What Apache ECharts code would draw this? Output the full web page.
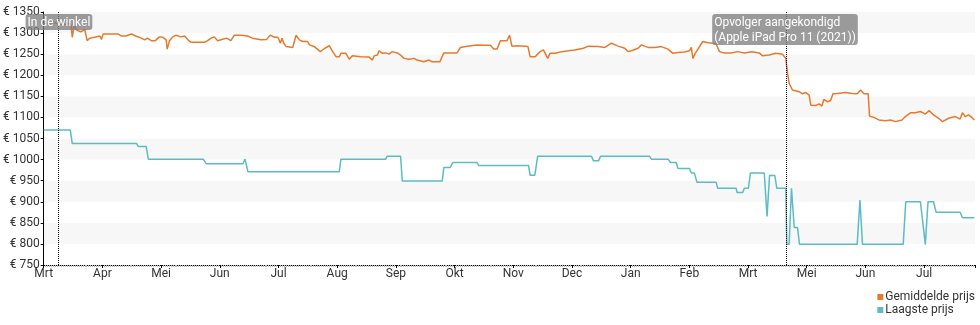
<!DOCTYPE html>
<html>
<head>
<meta charset="utf-8">
<script src="https://cdn.jsdelivr.net/npm/echarts@6/dist/echarts.min.js"></script>
<style>
html,body{margin:0;padding:0;background:#fff;}
#chart{width:980px;height:325px;}
</style>
</head>
<body>
<div id="chart"></div>
<script>
// x values are days since the first day of the chart
const monthLabels = ['Mrt','Apr','Mei','Jun','Jul','Aug','Sep','Okt','Nov','Dec','Jan','Feb','Mrt','Mei','Jun','Jul'];
const yTicks = [750,800,850,900,950,1000,1050,1100,1150,1200,1250,1300,1350];

const avgDays = [0,5,10,12.6,14,14.6,15.6,16.8,19,21,22.2,23.6,26,28.7,29.5,30.4,34,38,39.7,42,44.8,47,49.9,51.6,53,55,57,59.2,61,62.6,63.1,64.3,66,67.7,70,72,73.7,75.4,79,82.1,83.8,85.5,87.2,88.9,91,93.5,95.7,97.4,101,104.2,106.7,111,114,115.7,118,
119.7,121,121.8,122.7,123.9,127.3,129,130.7,132.4,134.9,135.8,138.3,141.4,143.7,146,147.7,149.4,151.1,152,154.4,156.2,157.8,162,166.3,168,168.9,170.6,171.4,173.1,174.8,176.5,178.2,180.7,182.4,184.2,186.7,189.2,190.9,194.3,196.8,198.5,200,202.5,204.5,207.9,211.3,213,216.4,221.5,224.9,228.3,230,231.7,233.4,236.8,238.1,239.3,
241.9,246.1,247.5,248.6,251.2,253.7,255.4,256.3,257.6,258.8,261.4,264.8,268.2,271.5,275.8,278.4,283.4,286.8,290.2,293.6,297,298.7,300.4,303.8,305.5,308.9,312.3,315.7,319.1,321.6,324.2,327.5,330.1,331,331.8,333,334.4,336.9,339.5,342,343.7,345.4,347.9,351.3,354.7,358.1,
359,362,365.7,367.5,370.8,374.2,377.6,379.3,380.2,381,382.7,386.1,387.8,389.5,391.2,392.1,394.6,396.3,397.7,398.8,400.6,402.2,403.4,405.6,406.5,409.9,413.3,415.8,417.5,419.2,421.4,422.1,424.3,426.9,430.2,432.8,435.3,438.7,440.4,443,445.5,448.1,450.6,452.6,454.8,457.4,459.4,462.5,465.9,468.4,469.6,471,472.7,474.4,475.7];
const avgPrices = [1322,1325,1320,1323,1319,1290,1319,1307,1303,1309,1282,1288,1290,1293,1285,1298,1298,1298,1293,1293,1298,1293,1288,1284,1288,1282,1282,1291,1290,1284,1262,1282,1291,1295,1291,1293,1284,1278,1278,1278,1282,1288,1291,1282,1285,1288,1282,1295,1295,1293,1288,1284,1285,1295,1290,
1290,1276,1288,1276,1268,1266,1295,1284,1280,1280,1272,1268,1256,1264,1270,1256,1244,1244,1252,1252,1238,1246,1244,1243,1236,1246,1248,1258,1252,1253,1250,1256,1253,1248,1240,1238,1240,1236,1232,1236,1232,1232,1232,1253,1253,1253,1266,1269,1272,1271,1271,1262,1262,1282,1282,1295,1269,
1270,1269,1268,1244,1244,1256,1260,1256,1240,1252,1252,1256,1258,1260,1264,1269,1268,1266,1276,1269,1264,1256,1258,1264,1272,1266,1266,1268,1262,1252,1254,1255,1258,1266,1240,1252,1262,1280,1277,1276,1274,1256,1253,1253,1256,1253,
1256,1256,1253,1246,1248,1252,1250,1240,1205,1181,1165,1161,1156,1159,1153,1129,1128,1132,1127,1143,1137,1140,1156,1157,1161,1159,1157,1156,1165,1156,1156,1103,1100,1094,1092,1094,1090,1094,1102,1111,1111,1114,1108,1116,1106,1098,1090,1098,1102,1096,1111,1102,1106,1100,1094];

const lowDays = [0,13.6,14.6,47.5,48.4,52.4,53.5,81.5,83.1,101.8,102.9,103.6,104.4,151.1,151.9,174.8,175.5,182.4,183.3,203.7,204.5,207.7,209.1,221.5,222.3,247.8,248.6,251,252.5,280,281,283.6,284.6,309.6,310.6,319.1,320.4,323.3,324.2,330.1,331,332.6,333.9,343.7,344.5,353.9,354.4,357.3,358.1,360.2,361.2,368.3,369.7,371,373.7,374.7,379.3,379.8,381,382.2,383.6,385.3,386.3,415.8,417.2,418.5,439.3,440.6,448.1,450.6,452,454.8,456.1,468.4,469.6,475.7];
const lowPrices = [1070,1070,1038,1038,1031,1031,1001,1001,990,990,1001,1001,971,971,1001,1001,1008,1008,949,949,981,981,993,993,986,986,963,963,1008,1008,997,997,1008,1008,1001,1001,993,993,979,979,968,968,946,946,932,932,922,922,932,932,968,968,865,962,962,932,932,799,799,932,839,839,799,799,904,799,799,900,900,799,900,900,875,875,862,862];

const events = [
  {day: 7.6, name: 'In de winkel', off: -33},
  {day: 379.5, name: 'Opvolger aangekondigd\n(Apple iPad Pro 11 (2021))', off: -74}
];

const orange = '#e8792b';
const teal = '#5bbcc4';
const font = 'Roboto, "Noto Sans", sans-serif';

const avgData = avgDays.map((d, i) => [d, avgPrices[i]]);
const lowData = lowDays.map((d, i) => [d, lowPrices[i]]);

const chart = echarts.init(document.getElementById('chart'), null, {renderer: 'canvas'});
chart.setOption({
  animation: false,
  textStyle: {fontFamily: font},
  grid: {left: 40, right: 5, top: 12, bottom: 60, containLabel: false},
  legend: {
    orient: 'vertical', right: 5, top: 291, padding: 0, height: 34,
    itemWidth: 6, itemHeight: 6, itemGap: 1,
    icon: 'rect', align: 'left',
    textStyle: {fontSize: 12, color: '#333', fontFamily: font, padding: [0, 0, 0, -3]},
    data: ['Gemiddelde prijs', 'Laagste prijs']
  },
  xAxis: {
    type: 'value', min: 0, max: 476, interval: 30,
    axisLine: {show: true, lineStyle: {color: '#000', width: 1}},
    axisTick: {show: true, length: 3, lineStyle: {color: '#000'}},
    minorTick: {show: true, splitNumber: 30, length: 2, lineStyle: {color: '#bbb'}},
    splitLine: {show: false},
    axisLabel: {
      margin: 3, fontSize: 12, color: '#333', fontFamily: font,
      showMaxLabel: false,
      formatter: v => {
        const i = v / 30;
        return Number.isInteger(i) && monthLabels[i] ? monthLabels[i] : '';
      }
    }
  },
  yAxis: {
    type: 'value', min: yTicks[0], max: yTicks[yTicks.length - 1], interval: 50,
    axisLine: {show: true, lineStyle: {color: '#000', width: 1}},
    axisTick: {show: true, length: 3, lineStyle: {color: '#000'}},
    splitLine: {show: false},
    splitArea: {show: true, areaStyle: {color: ['#ffffff', '#f7f7f7']}},
    axisLabel: {margin: 4, fontSize: 12, color: '#333', fontFamily: font, formatter: v => '€ ' + v}
  },
  series: [
    {
      name: 'Gemiddelde prijs', type: 'line', data: avgData, showSymbol: false, symbol: 'none',
      lineStyle: {color: orange, width: 1.5}, itemStyle: {color: orange}
    },
    {
      name: 'Laagste prijs', type: 'line', data: lowData, showSymbol: false, symbol: 'none',
      lineStyle: {color: teal, width: 1.5}, itemStyle: {color: teal},
      markLine: {
        silent: true, symbol: 'none', animation: false,
        lineStyle: {color: '#000', type: 'dotted', width: 1},
        label: {show: false},
        data: events.map(e => ({xAxis: e.day}))
      },
      markPoint: {
        silent: true, symbol: 'rect', symbolSize: 0, animation: false,
        data: events.map(e => ({
          coord: [e.day, yTicks[yTicks.length - 1]], name: e.name,
          label: {position: [e.off, 2]}
        })),
        label: {
          show: true, formatter: p => p.name, align: 'left', verticalAlign: 'top',
          color: '#fff', fontSize: 12, lineHeight: 15, fontFamily: font,
          backgroundColor: 'rgba(128,128,128,0.78)', borderRadius: 3, padding: [1, 2, 0, 2]
        }
      }
    }
  ]
});
</script>
</body>
</html>
